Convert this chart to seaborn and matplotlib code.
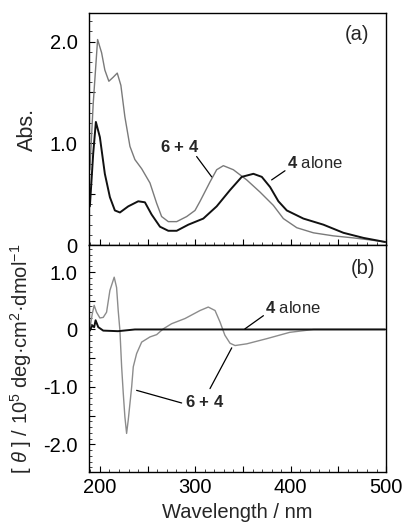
import numpy as np
import pandas as pd
import matplotlib
matplotlib.use("Agg")
import matplotlib.pyplot as plt
from matplotlib.ticker import MultipleLocator, FuncFormatter
import seaborn as sns

# ---- absorption spectra (panel a) ----
abs_alone_nm = [189.5, 193, 195.8, 200, 205.2, 210.5, 215.7, 221, 229.7, 240.2, 247.2,
                254.2, 263, 271.7, 280.5, 292.7, 308.4, 322.4, 336.4, 348.7, 360.9,
                369.7, 378.4, 387.1, 395.9, 413.3, 434.3, 455.3, 476.3, 499]
abs_alone = [0.38, 0.90, 1.21, 1.06, 0.70, 0.47, 0.34, 0.32, 0.38, 0.43, 0.42,
             0.30, 0.18, 0.14, 0.14, 0.20, 0.26, 0.38, 0.54, 0.67, 0.70,
             0.67, 0.57, 0.43, 0.34, 0.26, 0.20, 0.12, 0.07, 0.03]

abs_mix_nm = [189.5, 193, 197.6, 201.8, 205.2, 209.4, 214, 218.2, 222, 226.2, 231.5,
              236.7, 243.8, 252.5, 259.5, 264.7, 271.7, 280.5, 291, 299.7, 305,
              315.4, 322.4, 329.4, 339.9, 353.9, 367.9, 381.8, 392.3, 406.4, 423.8,
              444.8, 465.8, 483.3, 499]
abs_mix = [0.74, 1.39, 2.02, 1.89, 1.72, 1.61, 1.65, 1.69, 1.57, 1.26, 0.97,
           0.84, 0.75, 0.61, 0.41, 0.28, 0.23, 0.23, 0.28, 0.34, 0.43,
           0.62, 0.74, 0.78, 0.74, 0.64, 0.52, 0.39, 0.26, 0.17, 0.12,
           0.09, 0.07, 0.05, 0.03]

# ---- CD spectra (panel b), units of 10^5 deg cm^2 dmol^-1 ----
cd_alone_nm = [189.5, 192, 194, 195.5, 198.3, 203.5, 219, 236.7, 300, 400, 499]
cd_alone = [-0.02, 0.07, 0.04, 0.16, 0.04, -0.02, -0.03, 0.0, 0.0, 0.0, 0.0]

cd_mix_nm = [189.5, 192, 194, 196.5, 200, 203.5, 207, 210.5, 215, 217.5, 219.2, 221,
             222.8, 224.5, 226.2, 228, 229.7, 231.5, 233.3, 235, 238.5, 243.8,
             252.5, 259.5, 266.4, 275.2, 289.2, 305, 313.6, 320.7, 325.9, 331,
             336.4, 341.7, 354, 375, 399, 424, 499]
cd_mix = [0.01, 0.27, 0.42, 0.30, 0.20, 0.21, 0.30, 0.68, 0.91, 0.73, 0.33, -0.02,
          -0.65, -1.11, -1.52, -1.81, -1.58, -1.29, -1.00, -0.65, -0.42, -0.22,
          -0.13, -0.09, 0.01, 0.10, 0.19, 0.33, 0.39, 0.33, 0.13, -0.10,
          -0.24, -0.28, -0.25, -0.16, -0.05, 0.0, 0.0]

x_ticks = [200, 300, 400, 500]

sns.set_theme(style="ticks")
plt.rcParams["font.family"] = ["Liberation Sans", "DejaVu Sans"]
plt.rcParams["axes.unicode_minus"] = False
plt.rcParams["mathtext.fontset"] = "custom"
plt.rcParams["mathtext.rm"] = "Liberation Sans"
plt.rcParams["mathtext.it"] = "Liberation Sans:italic"
plt.rcParams["mathtext.bf"] = "Liberation Sans:bold"

fig = plt.figure(figsize=(4.06, 5.23), dpi=100)
ax_a = fig.add_axes([0.219, 0.5315, 0.732, 0.4435])
ax_b = fig.add_axes([0.219, 0.0966, 0.732, 0.4349])

dark = "#111111"
grey = "#7a7a7a"

df_a1 = pd.DataFrame({"nm": abs_alone_nm, "val": abs_alone})
df_a2 = pd.DataFrame({"nm": abs_mix_nm, "val": abs_mix})
df_b1 = pd.DataFrame({"nm": cd_alone_nm, "val": cd_alone})
df_b2 = pd.DataFrame({"nm": cd_mix_nm, "val": cd_mix})

sns.lineplot(data=df_a2, x="nm", y="val", ax=ax_a, color=grey, lw=1.0,
             estimator=None, sort=False)
sns.lineplot(data=df_a1, x="nm", y="val", ax=ax_a, color=dark, lw=1.4,
             estimator=None, sort=False)
sns.lineplot(data=df_b2, x="nm", y="val", ax=ax_b, color="#8c8c8c", lw=1.0,
             estimator=None, sort=False)
sns.lineplot(data=df_b1, x="nm", y="val", ax=ax_b, color=dark, lw=1.4,
             estimator=None, sort=False)

def fmt_x(v, pos):
    return f"{int(round(v))}" if int(round(v)) in x_ticks else ""

def fmt_y(v, pos):
    if abs(v - round(v)) > 1e-6:
        return ""
    if abs(v) < 1e-9:
        return "0"
    return f"{v:.1f}"

fs = 14.5
for ax in (ax_a, ax_b):
    ax.set_xlim(188.5, 500)
    ax.xaxis.set_major_locator(MultipleLocator(50))
    ax.xaxis.set_minor_locator(MultipleLocator(10))
    ax.yaxis.set_major_locator(MultipleLocator(0.5))
    ax.yaxis.set_minor_locator(MultipleLocator(0.1))
    ax.yaxis.set_major_formatter(FuncFormatter(fmt_y))
    ax.tick_params(which="major", direction="in", length=4, width=0.8,
                   labelsize=fs, top=False, right=False, colors="black")
    ax.tick_params(which="minor", direction="in", length=2, width=0.6,
                   top=False, right=False)
    ax.tick_params(axis="y", which="major", pad=8)
    for s in ax.spines.values():
        s.set_visible(True)
        s.set_linewidth(1.0)
        s.set_color("black")
    ax.set_xlabel("")
    ax.set_ylabel("")

ax_a.set_ylim(0, 2.28)
ax_b.set_ylim(-2.49, 1.47)
ax_a.tick_params(axis="x", labelbottom=False)
ax_b.xaxis.set_major_formatter(FuncFormatter(fmt_x))
ax_b.tick_params(axis="x", which="major", pad=4)

ax_a.set_ylabel("Abs.", fontsize=fs + 1)
ax_b.set_ylabel(r"[ $\it{\theta}$ ] / 10$^{5}$ deg·cm$^{2}$·dmol$^{-1}$",
                fontsize=fs)
ax_a.yaxis.set_label_coords(-0.172, 0.5)
ax_b.yaxis.set_label_coords(-0.185, 0.5)
ax_b.set_xlabel("Wavelength / nm", fontsize=fs, labelpad=4)

# panel tags
ax_a.text(469, 2.07, "(a)", fontsize=fs, ha="center", va="center")
ax_b.text(476, 1.07, "(b)", fontsize=fs, ha="center", va="center")

# curve labels with leader lines
ax_a.text(284, 0.96, r"$\mathbf{6}$ + $\mathbf{4}$", fontsize=12,
          ha="center", va="center", fontweight="bold")
ax_a.plot([301.4, 317.2], [0.87, 0.67], color="black", lw=0.9)
ax_a.text(425.6, 0.81, r"$\mathbf{4}$ alone", fontsize=12, ha="center", va="center")
ax_a.plot([394, 380], [0.73, 0.64], color="black", lw=0.9)

ax_b.text(402, 0.38, r"$\mathbf{4}$ alone", fontsize=12, ha="center", va="center")
ax_b.plot([371.4, 352], [0.24, 0.01], color="black", lw=0.9)
ax_b.text(310, -1.27, r"$\mathbf{6}$ + $\mathbf{4}$", fontsize=12,
          ha="center", va="center", fontweight="bold")
ax_b.plot([285.7, 238.5], [-1.28, -1.06], color="black", lw=0.9)
ax_b.plot([315.4, 338.2], [-1.03, -0.32], color="black", lw=0.9)

fig.savefig("out.png", dpi=100)
